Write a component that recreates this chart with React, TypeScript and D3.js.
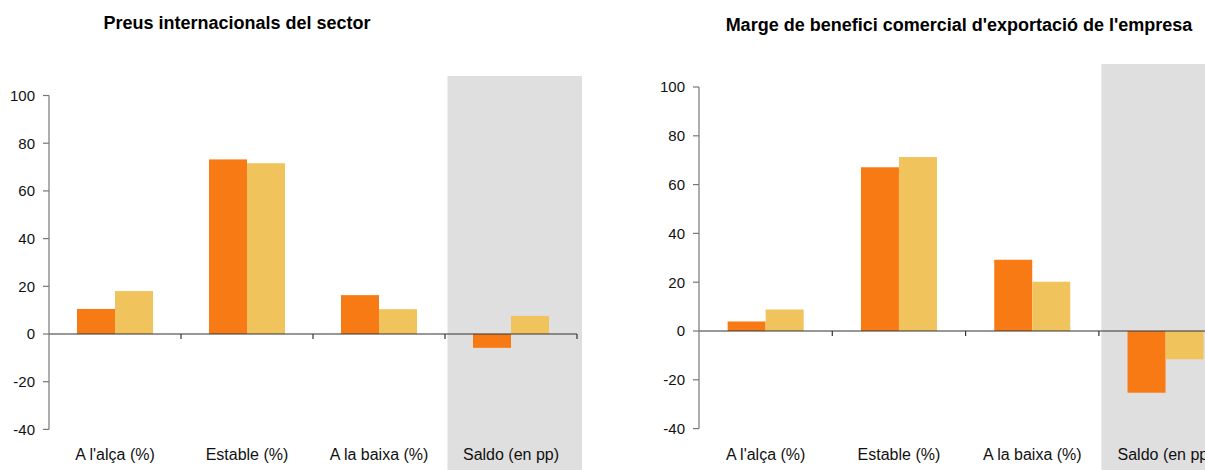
import React from "react";
import { scaleBand, scaleLinear } from "d3";

const categories = ["A l'alça (%)", "Estable (%)", "A la baixa (%)", "Saldo (en pp)"];
const series = ["s1", "s2"];
const colors = ["#F77A14", "#F0C35C"];
const yTicks = [-40, -20, 0, 20, 40, 60, 80, 100];

const preusS1 = [10.5, 73.2, 16.3, -5.8];
const preusS2 = [18.0, 71.6, 10.4, 7.6];
const margeS1 = [3.9, 67.1, 29.2, -25.3];
const margeS2 = [8.8, 71.3, 20.2, -11.6];

const W = 1205;
const H = 470;
const font = "'Liberation Sans', Arial, sans-serif";

type PanelProps = {
  title: string;
  titleX: number;
  titleY: number;
  left: number;
  band: number;
  yTop: number;
  yZero: number;
  shadeTop: number;
  values: number[][];
};

const Panel = ({ title, titleX, titleY, left, band, yTop, yZero, shadeTop, values }: PanelProps) => {
  const x = scaleBand().domain(categories).range([left, left + band * categories.length]).padding(0);
  const y = scaleLinear().domain([0, 100]).range([yZero, yTop]);
  const inner = scaleBand().domain(series).range([0, 76]);
  const bw = x.bandwidth();
  const saldoX = x(categories[3]);

  return (
    <g>
      <text x={titleX} y={titleY} textAnchor="middle" fontWeight="bold" fontSize={18} fontFamily={font} fill="#000">
        {title}
      </text>
      <rect x={saldoX + 2.5} y={shadeTop} width={bw + 2.5} height={H - shadeTop} fill="#DFDFDF" />
      {series.map((s, si) =>
        categories.map((c, ci) => {
          const v = values[si][ci];
          const bx = x(c) + bw / 2 - 38 + inner(s);
          return (
            <rect
              key={s + c}
              x={bx}
              width={inner.bandwidth()}
              y={Math.min(y(v), y(0))}
              height={Math.abs(y(v) - y(0))}
              fill={colors[si]}
            />
          );
        })
      )}
      <line x1={left} x2={left + band * categories.length} y1={y(0)} y2={y(0)} stroke="#333" strokeWidth={1.2} />
      {categories.map((c) => (
        <line key={"t" + c} x1={x(c) + bw} x2={x(c) + bw} y1={y(0)} y2={y(0) + 5} stroke="#333" strokeWidth={1.2} />
      ))}
      {categories.map((c) => (
        <text key={"l" + c} x={x(c) + bw / 2} y={460} textAnchor="middle" fontSize={16} fontFamily={font} fill="#111">
          {c}
        </text>
      ))}
      <line x1={left} x2={left} y1={y(100)} y2={y(-40)} stroke="#777" strokeWidth={1.2} />
      {yTicks.map((t) => (
        <g key={"y" + t}>
          <line x1={left - 6} x2={left} y1={y(t)} y2={y(t)} stroke="#777" strokeWidth={1.2} />
          <text x={left - 14} y={y(t)} dy="0.36em" textAnchor="end" fontSize={15} fontFamily={font} fill="#111">
            {t}
          </text>
        </g>
      ))}
    </g>
  );
};

export default function App() {
  return (
    <svg width={W} height={H} style={{ position: "absolute", left: 0, top: 0, display: "block" }}>
      <rect width={W} height={H} fill="#fff" />
      <Panel
        title="Preus internacionals del sector"
        titleX={237}
        titleY={29}
        left={49}
        band={132}
        yTop={95.5}
        yZero={334}
        shadeTop={76}
        values={[preusS1, preusS2]}
      />
      <Panel
        title="Marge de benefici comercial d'exportació de l'empresa"
        titleX={959}
        titleY={31}
        left={699}
        band={133.3}
        yTop={87}
        yZero={331}
        shadeTop={64}
        values={[margeS1, margeS2]}
      />
    </svg>
  );
}
